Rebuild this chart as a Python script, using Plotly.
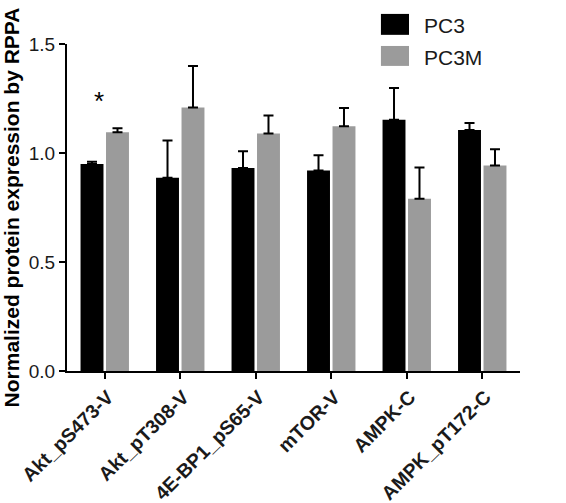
import plotly.graph_objects as go

categories = ["Akt_pS473-V", "Akt_pT308-V", "4E-BP1_pS65-V", "mTOR-V", "AMPK-C", "AMPK_pT172-C"]
pc3_values = [0.95, 0.887, 0.931, 0.920, 1.152, 1.106]
pc3_errors = [0.01, 0.17, 0.077, 0.07, 0.146, 0.032]
pc3m_values = [1.095, 1.209, 1.089, 1.123, 0.79, 0.943]
pc3m_errors = [0.018, 0.19, 0.083, 0.083, 0.143, 0.074]
series_names = ["PC3", "PC3M"]
series_colors = ["#000000", "#9b9b9b"]
y_ticks = [0.0, 0.5, 1.0, 1.5]

FONT = "Liberation Sans, Arial"

fig = go.Figure()
for name, vals, errs, col in [(series_names[0], pc3_values, pc3_errors, series_colors[0]),
                               (series_names[1], pc3m_values, pc3m_errors, series_colors[1])]:
    fig.add_trace(go.Bar(
        x=categories, y=vals, name=name, marker=dict(color=col, line=dict(width=0)),
        error_y=dict(type="data", array=errs, arrayminus=[0] * len(errs), symmetric=False,
                     color="#000000", thickness=2, width=5),
        showlegend=False,
    ))

# significance marker
fig.add_annotation(x=categories[0], y=1.24, text="*", showarrow=False, xshift=-6,
                   font=dict(size=26, color="#000000", family=FONT))

# custom legend (large square swatches)
legend_boxes = [(1.028, 1.092), (0.933, 0.994)]
legend_text_y = [1.058, 0.960]
for name, col, (y0, y1), ty in zip(series_names, series_colors, legend_boxes, legend_text_y):
    fig.add_shape(type="rect", xref="paper", yref="paper",
                  x0=0.693, x1=0.755, y0=y0, y1=y1,
                  fillcolor=col, line=dict(width=0))
    fig.add_annotation(xref="paper", yref="paper", x=0.783, y=ty, text=name,
                       showarrow=False, xanchor="left", yanchor="middle",
                       font=dict(size=21, color="#1a1a1a", family=FONT))

fig.update_layout(
    width=566, height=503,
    margin=dict(l=67, r=46, t=44, b=132),
    paper_bgcolor="white", plot_bgcolor="white",
    barmode="group", bargap=0.325, bargroupgap=0.1,
    font=dict(family=FONT, color="#1a1a1a"),
    xaxis=dict(
        tickangle=-45, showline=True, linecolor="#000000", linewidth=2,
        ticks="outside", ticklen=6, tickwidth=2, tickcolor="#000000",
        tickfont=dict(size=19.5, color="#1a1a1a", family=FONT, weight="bold"),
        ticklabelstandoff=-1, ticklabelshift=3,
        showgrid=False, zeroline=False, range=[-0.5, 5.5], automargin=False,
    ),
    yaxis=dict(
        range=[0, 1.5], tickvals=y_ticks, tickformat=".1f",
        showline=True, linecolor="#000000", linewidth=2,
        ticks="outside", ticklen=6, tickwidth=2, tickcolor="#000000",
        tickfont=dict(size=19, color="#1a1a1a", family=FONT),
        showgrid=False, zeroline=False, automargin=False,
        title=dict(text="Normalized protein expression by RPPA", standoff=6,
                   font=dict(size=21, color="#000000", family=FONT, weight="bold")),
    ),
)

fig.write_html("out.html", config={"displayModeBar": False},
               post_script="document.body.style.margin='0';")
